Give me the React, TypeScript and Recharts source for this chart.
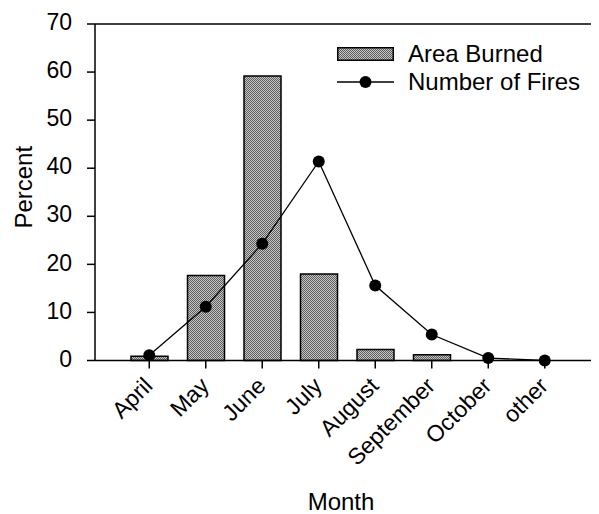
import React from 'react';
import {
  ComposedChart, Bar, Line, XAxis, YAxis, Legend, ReferenceLine, Label,
} from 'recharts';

const months = ['April', 'May', 'June', 'July', 'August', 'September', 'October', 'other'];
const areaBurned = [0.9, 17.7, 59.2, 18.0, 2.3, 1.2, 0, 0];
const numberOfFires = [1.1, 11.2, 24.3, 41.4, 15.6, 5.4, 0.5, 0];
const yTicks = [0, 10, 20, 30, 40, 50, 60, 70];

const data = months.map((m, i) => ({ month: m, area: areaBurned[i], fires: numberOfFires[i] }));

const FONT = '"Liberation Sans", Arial, sans-serif';

const MonthTick = (props: any) => {
  const { x, y, payload } = props;
  return (
    <text
      transform={`translate(${x - 7},${y}) rotate(-45)`}
      textAnchor="end"
      dy="0.72em"
      fontSize={23}
      fontFamily={FONT}
      fill="#000"
    >
      {payload.value}
    </text>
  );
};

const ChartLegend = () => (
  <div style={{ fontFamily: FONT, fontSize: 24, color: '#000', lineHeight: '28.3px' }}>
    <div style={{ display: 'flex', alignItems: 'center' }}>
      <svg width={57} height={14} style={{ marginRight: 14 }}>
        <rect x={0.75} y={0.75} width={55.5} height={12.5} fill="url(#stipple)" stroke="#000" strokeWidth={1.5} />
      </svg>
      <span>Area Burned</span>
    </div>
    <div style={{ display: 'flex', alignItems: 'center' }}>
      <svg width={57} height={14} style={{ marginRight: 14 }}>
        <line x1={0} y1={7} x2={57} y2={7} stroke="#000" strokeWidth={1.3} />
        <circle cx={28.5} cy={7} r={6} fill="#000" />
      </svg>
      <span>Number of Fires</span>
    </div>
  </div>
);

export default function App() {
  return (
    <ComposedChart
      width={591}
      height={506}
      data={data}
      margin={{ top: 16, right: 0, bottom: 0, left: 0 }}
      style={{ fontFamily: FONT }}
    >
      <defs>
        <pattern id="stipple" width={2} height={2} patternUnits="userSpaceOnUse">
          <rect width={2} height={2} fill="#c6c6c6" />
          <rect width={1} height={1} fill="#5e5e5e" />
          <rect x={1} y={1} width={1} height={1} fill="#5e5e5e" />
        </pattern>
      </defs>
      <XAxis
        dataKey="month"
        height={153.5}
        padding={{ left: 26, right: 26 }}
        tick={<MonthTick />}
        tickSize={8}
        tickMargin={7}
        interval={0}
        stroke="#000"
        axisLine={{ stroke: '#000', strokeWidth: 1.5 }}
        tickLine={{ stroke: '#000', strokeWidth: 1.5 }}
      >
        <Label
          content={({ viewBox }: any) => (
            <text
              x={viewBox.x + viewBox.width / 2 - 6}
              y={viewBox.y + 149}
              textAnchor="middle"
              fontSize={24}
              fontFamily={FONT}
              fill="#000"
            >
              Month
            </text>
          )}
        />
      </XAxis>
      <YAxis
        width={87}
        domain={[0, 70]}
        ticks={yTicks}
        tickSize={8}
        tickMargin={15}
        tick={{ fontSize: 23, fill: '#000', fontFamily: FONT, dy: -2 }}
        axisLine={{ stroke: '#000', strokeWidth: 1.5 }}
        tickLine={{ stroke: '#000', strokeWidth: 1.5 }}
      >
        <Label
          content={({ viewBox }: any) => {
            const cx = viewBox.x + 24;
            const cy = viewBox.y + viewBox.height / 2 - 5;
            return (
              <text
                transform={`translate(${cx},${cy}) rotate(-90)`}
                textAnchor="middle"
                fontSize={24}
                fontFamily={FONT}
                fill="#000"
              >
                Percent
              </text>
            );
          }}
        />
      </YAxis>
      <ReferenceLine y={70} stroke="#000" strokeWidth={1.5} />
      <Legend
        layout="vertical"
        align="center"
        verticalAlign="middle"
        content={<ChartLegend />}
        wrapperStyle={{ position: 'absolute', top: 32, left: 329, width: 'auto' }}
      />
      <Bar
        dataKey="area"
        name="Area Burned"
        barSize={37}
        fill="url(#stipple)"
        stroke="#000"
        strokeWidth={1.5}
        isAnimationActive={false}
      />
      <Line
        dataKey="fires"
        name="Number of Fires"
        type="linear"
        stroke="#000"
        strokeWidth={1.3}
        dot={{ r: 6, fill: '#000', stroke: '#000', strokeWidth: 0 }}
        activeDot={false}
        isAnimationActive={false}
      />
    </ComposedChart>
  );
}
